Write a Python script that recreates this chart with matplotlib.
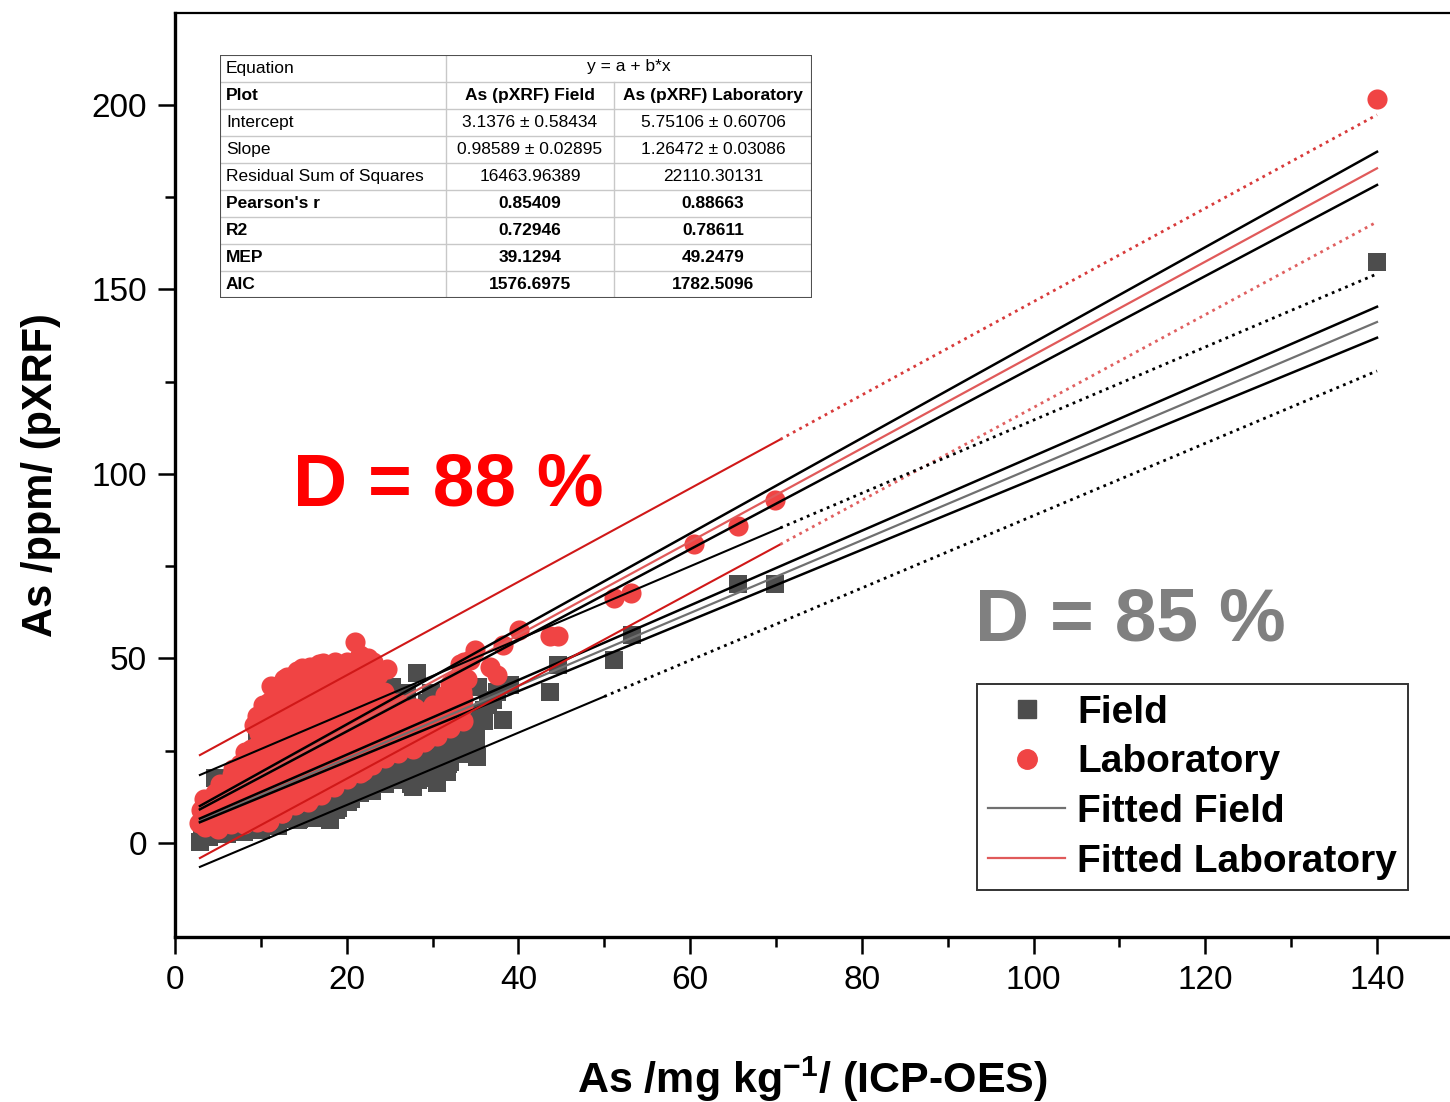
import numpy as np
import matplotlib
matplotlib.use("Agg")
import matplotlib.pyplot as plt
from matplotlib.lines import Line2D

plt.rcParams['font.family'] = ['Liberation Sans', 'DejaVu Sans']
plt.rcParams['mathtext.fontset'] = 'custom'
plt.rcParams['mathtext.rm'] = 'Liberation Sans'
plt.rcParams['mathtext.bf'] = 'Liberation Sans:bold'

# ---------------- data ----------------
field_points = [
    (2.9, 0.2), (3.2, 4.5), (3.5, 2.0), (4.0, 6.5), (4.5, 3.0), (4.7, 17.6), (5.0, 9.0), (5.5, 5.0),
    (6.0, 11.5), (6.3, 3.8), (6.8, 7.5), (7.2, 13.0), (7.6, 4.5), (8.0, 9.5), (8.4, 15.5), (8.8, 6.0),
    (9.2, 11.0), (9.5, 28.5), (9.8, 4.5), (10.2, 8.0), (10.5, 14.5), (10.8, 20.0), (11.1, 5.0), (11.3, 34.7),
    (11.6, 10.5), (12.0, 17.0), (12.3, 24.0), (12.6, 6.5), (13.0, 12.5), (13.3, 20.5), (13.7, 8.0), (14.0, 15.0),
    (14.3, 27.0), (14.5, 6.5), (15.0, 11.0), (15.4, 18.5), (15.8, 24.5), (16.2, 8.5), (16.5, 14.0), (16.9, 21.0),
    (17.3, 30.0), (17.6, 11.5), (18.0, 6.2), (18.2, 17.0), (18.5, 25.5), (18.8, 9.0), (19.2, 20.0), (19.5, 14.0),
    (19.8, 31.0), (20.2, 11.0), (20.5, 18.0), (20.9, 24.0), (21.3, 14.4), (21.7, 29.0), (22.0, 20.5), (22.4, 35.0),
    (22.8, 16.0), (23.2, 26.0), (23.6, 21.0), (24.0, 32.0), (24.4, 17.0), (24.8, 38.0), (25.2, 24.0), (25.3, 42.3),
    (25.6, 19.5), (26.0, 29.0), (26.4, 35.0), (26.8, 22.0), (27.2, 17.5), (27.7, 15.2), (28.0, 25.0), (28.2, 46.1),
    (28.3, 17.1), (28.6, 31.0), (29.0, 21.0), (29.4, 38.0), (29.8, 26.0), (30.2, 19.0), (30.5, 16.3), (30.8, 33.0),
    (31.2, 23.0), (31.7, 19.2), (31.8, 21.5), (32.2, 29.0), (32.6, 36.0), (33.0, 25.0), (33.4, 31.0), (34.0, 27.0),
    (35.0, 29.8), (35.1, 31.2), (35.2, 23.3), (35.3, 42.3), (36.0, 36.0), (37.0, 38.8), (37.5, 41.0), (38.2, 33.3),
    (39.0, 42.8), (4.0, 1.5), (6.0, 2.5), (8.0, 3.0), (10.0, 3.5), (12.0, 4.5), (14.3, 6.2), (16.0, 6.8),
    (17.5, 8.0), (19.0, 9.5), (20.5, 12.0), (21.5, 13.5), (23.0, 14.0), (24.5, 16.0), (26.0, 17.0), (27.5, 16.0),
    (29.0, 17.5), (30.5, 19.0), (32.0, 22.0), (33.5, 24.0), (35.0, 27.0), (22.0, 18.0), (25.0, 20.5), (28.0, 21.0),
    (31.0, 25.0), (33.0, 28.0), (36.0, 33.0), (34.0, 35.0), (32.0, 38.0), (27.0, 40.5), (29.8, 40.5), (26.5, 24.5),
    (29.5, 23.0), (32.5, 26.5), (34.5, 30.5), (36.5, 37.5), (31.0, 31.5),
    (43.7, 40.9), (44.6, 48.2), (51.1, 49.6), (53.2, 56.4), (65.6, 70.2), (69.9, 70.2), (140.0, 157.5),
]

lab_points = [
    (2.8, 5.5), (3.0, 9.0), (3.3, 7.0), (3.6, 11.5), (4.0, 5.0), (4.3, 8.5), (4.7, 13.5), (5.0, 4.5),
    (5.3, 10.0), (5.6, 15.5), (6.0, 7.0), (6.3, 12.0), (6.6, 18.5), (7.0, 9.5), (7.3, 14.5), (7.6, 21.5),
    (8.0, 6.5), (8.3, 11.5), (8.6, 17.0), (8.9, 25.5), (9.2, 32.0), (9.4, 8.5), (9.7, 14.0), (10.0, 20.5),
    (10.2, 37.5), (10.5, 27.5), (10.8, 5.8), (11.1, 11.0), (11.4, 17.5), (11.6, 41.5), (11.9, 24.0), (12.2, 33.0),
    (12.5, 8.0), (12.8, 14.5), (13.1, 45.0), (13.3, 21.0), (13.6, 38.5), (13.9, 28.5), (14.1, 10.5), (14.4, 17.0),
    (14.8, 47.5), (15.0, 34.0), (15.3, 24.5), (15.6, 42.0), (15.9, 12.5), (16.2, 19.5), (16.5, 29.5), (16.8, 48.5),
    (17.1, 38.0), (17.4, 15.5), (17.7, 23.0), (18.0, 44.5), (18.3, 33.5), (18.6, 49.0), (18.9, 18.5), (19.2, 27.0),
    (19.5, 40.0), (19.8, 21.5), (20.1, 47.0), (20.4, 31.5), (20.8, 36.0), (21.0, 54.5), (21.3, 24.0), (21.6, 43.5),
    (21.9, 19.5), (22.2, 28.5), (22.5, 50.0), (22.8, 38.0), (23.1, 23.5), (23.4, 33.0), (23.7, 45.5), (24.0, 26.5),
    (24.3, 41.0), (24.7, 47.0), (25.0, 30.0), (25.3, 36.5), (25.7, 24.5), (26.0, 38.0), (26.4, 32.0), (26.8, 27.0),
    (27.2, 36.0), (27.7, 25.5), (28.0, 36.5), (28.4, 30.0), (28.8, 34.5), (29.2, 28.0), (29.6, 36.0), (30.0, 37.5),
    (30.4, 31.0), (30.8, 36.0), (31.5, 40.0), (31.6, 33.5), (32.5, 44.0), (32.4, 37.0), (32.8, 42.5), (33.2, 48.5),
    (33.6, 39.0), (34.0, 44.5), (34.4, 49.6), (34.9, 52.3), (36.7, 47.7), (37.5, 45.5), (38.2, 53.7), (40.1, 57.7),
    (3.5, 4.2), (3.6, 8.0), (3.4, 12.0), (5.0, 3.8), (5.1, 7.6), (4.9, 12.2), (5.2, 16.0),
    (6.5, 5.0), (6.4, 9.2), (6.6, 13.0), (6.5, 16.8), (6.7, 20.0),
    (8.0, 5.2), (8.1, 9.0), (7.9, 13.2), (8.0, 17.2), (8.2, 21.0), (8.1, 24.5),
    (9.5, 5.8), (9.6, 10.2), (9.4, 14.0), (9.5, 18.2), (9.7, 22.0), (9.5, 26.3), (9.8, 29.8), (9.6, 34.5),
    (11.0, 6.0), (11.1, 10.0), (10.9, 14.2), (11.0, 18.0), (11.2, 22.3), (11.0, 26.0), (10.9, 30.2), (11.1, 34.0),
    (11.0, 38.3), (11.2, 42.5),
    (12.5, 8.0), (12.6, 12.2), (12.4, 16.0), (12.5, 20.3), (12.7, 24.0), (12.5, 28.2), (12.4, 32.0), (12.6, 36.3),
    (12.5, 40.0), (12.7, 44.5),
    (14.0, 10.2), (14.1, 14.0), (13.9, 18.3), (14.0, 22.0), (14.2, 26.2), (14.0, 30.0), (13.9, 34.3), (14.1, 38.0),
    (14.0, 42.2), (14.2, 46.5),
    (15.5, 11.2), (15.6, 15.0), (15.4, 19.2), (15.5, 23.0), (15.7, 27.3), (15.5, 31.0), (15.4, 35.2), (15.6, 39.0),
    (15.5, 43.3), (15.7, 47.8),
    (17.0, 13.0), (17.1, 17.2), (16.9, 21.0), (17.0, 25.3), (17.2, 29.0), (17.0, 33.2), (16.9, 37.0), (17.1, 41.3),
    (17.0, 45.0), (17.2, 48.8),
    (18.5, 15.2), (18.6, 19.0), (18.4, 23.3), (18.5, 27.0), (18.7, 31.2), (18.5, 35.0), (18.4, 39.3), (18.6, 43.0),
    (18.5, 47.2),
    (20.0, 17.2), (20.1, 21.0), (19.9, 25.2), (20.0, 29.0), (20.2, 33.3), (20.0, 37.0), (19.9, 41.2), (20.1, 45.0),
    (20.0, 49.0),
    (21.5, 19.0), (21.6, 23.2), (21.4, 27.0), (21.5, 31.3), (21.7, 35.0), (21.5, 39.2), (21.4, 43.0), (21.6, 47.3),
    (21.5, 51.0),
    (23.0, 21.2), (23.1, 25.0), (22.9, 29.3), (23.0, 33.0), (23.2, 37.2), (23.0, 41.0), (22.9, 45.3), (23.1, 49.0),
    (24.5, 23.0), (24.6, 27.2), (24.4, 31.0), (24.5, 35.3), (24.7, 39.0),
    (26.0, 24.3), (26.1, 28.0), (25.9, 32.2), (26.0, 36.0),
    (27.5, 26.0), (27.6, 30.3), (27.4, 34.0),
    (29.0, 27.3), (29.1, 31.0), (28.9, 35.2),
    (30.5, 29.0), (30.6, 33.2), (30.4, 37.0),
    (32.0, 31.2), (32.1, 35.0), (31.9, 39.3), (32.0, 43.0),
    (33.5, 33.0), (33.6, 37.2), (33.4, 41.0), (33.5, 45.3), (33.7, 49.0),
    (43.7, 56.1), (44.6, 56.1), (51.1, 66.4), (53.1, 67.8), (60.4, 81.0), (65.6, 85.9), (69.9, 93.0), (140.0, 201.5),
]
field_x = [p[0] for p in field_points]
field_y = [p[1] for p in field_points]
lab_x = [p[0] for p in lab_points]
lab_y = [p[1] for p in lab_points]

# linear fit parameters (from the table)
field_intercept, field_slope = 3.1376, 0.98589
lab_intercept, lab_slope = 5.75106, 1.26472

# band end values at x = 2.9 and x = 140
band_x = [2.9, 140.0]
field_conf_hi = [6.6, 145.3]
field_conf_lo = [5.6, 136.9]
lab_conf_hi = [10.0, 187.3]
lab_conf_lo = [9.1, 178.3]
field_pred_hi = [18.4, 154.2]
field_pred_lo = [-6.5, 127.9]
lab_pred_hi = [23.8, 197.3]
lab_pred_lo = [-4.1, 168.3]

table_rows = ["Equation", "Plot", "Intercept", "Slope", "Residual Sum of Squares",
              "Pearson's r", "R2", "MEP", "AIC"]
table_field = ["", "As (pXRF) Field", "3.1376 \u00b1 0.58434", "0.98589 \u00b1 0.02895",
               "16463.96389", "0.85409", "0.72946", "39.1294", "1576.6975"]
table_lab = ["", "As (pXRF) Laboratory", "5.75106 \u00b1 0.60706", "1.26472 \u00b1 0.03086",
             "22110.30131", "0.88663", "0.78611", "49.2479", "1782.5096"]
table_equation = "y = a + b*x"
bold_rows = [1, 5, 6, 7, 8]

# ---------------- figure ----------------
W, H = 1450, 1102
fig = plt.figure(figsize=(W / 100, H / 100), dpi=100)
ax = fig.add_axes([175 / W, 1 - 937 / H, 1275 / W, 924 / H])

ax.scatter(field_x, field_y, marker='s', s=170, color='#4D4D4D', linewidths=0, zorder=2)
ax.scatter(lab_x, lab_y, marker='o', s=210, color='#F04444', linewidths=0, zorder=3)

xl = np.array(band_x)
ax.plot(xl, field_intercept + field_slope * xl, color='#707070', lw=1.6, zorder=5)
ax.plot(xl, lab_intercept + lab_slope * xl, color='#E05A5A', lw=1.6, zorder=5)
for b in (field_conf_hi, field_conf_lo, lab_conf_hi, lab_conf_lo):
    ax.plot(band_x, b, color='black', lw=1.8, zorder=5)


def split_line(band, xs, color_solid, color_dot):
    ys = np.interp(xs, band_x, band)
    ax.plot([band_x[0], xs], [band[0], ys], color=color_solid, lw=1.5, zorder=5)
    ax.plot([xs, band_x[1]], [ys, band[1]], color=color_dot, lw=2.0,
            linestyle=(0, (1.0, 1.6)), zorder=5)


split_line(lab_pred_hi, 70.5, '#D01818', '#D83A3A')
split_line(lab_pred_lo, 70.5, '#D01818', '#E06060')
split_line(field_pred_hi, 70.5, 'black', 'black')
split_line(field_pred_lo, 50.0, 'black', 'black')

ax.set_xlim(0, 148.5)
ax.set_ylim(-25.5, 224.9)
ax.set_xticks([0, 20, 40, 60, 80, 100, 120, 140])
ax.set_xticks(np.arange(10, 150, 20), minor=True)
ax.set_yticks([0, 50, 100, 150, 200])
ax.set_yticks([25, 75, 125, 175], minor=True)
ax.tick_params(which='major', direction='out', length=12, width=1.8, labelsize=24, pad=8)
ax.tick_params(which='minor', direction='out', length=7, width=1.8)
ax.spines['right'].set_visible(False)
ax.spines['left'].set_linewidth(2.4)
ax.spines['bottom'].set_linewidth(2.4)
ax.spines['top'].set_linewidth(1.6)

ax.set_xlabel(r'As /mg kg$^{\mathbf{-1}}$/ (ICP-OES)', fontsize=31, fontweight='bold', labelpad=42)
ax.set_ylabel('As /ppm/ (pXRF)', fontsize=30, fontweight='bold', labelpad=22)

ax.text(0.0925, 0.4675, 'D = 88 %', transform=ax.transAxes, fontsize=54, fontweight='bold',
        color='#FF0000', va='baseline', ha='left')
ax.text(0.6275, 0.3214, 'D = 85 %', transform=ax.transAxes, fontsize=54, fontweight='bold',
        color='#808080', va='baseline', ha='left')

handles = [Line2D([], [], marker='s', color='#4D4D4D', ls='none', markersize=13),
           Line2D([], [], marker='o', color='#F04444', ls='none', markersize=14),
           Line2D([], [], color='#707070', lw=1.6),
           Line2D([], [], color='#E05A5A', lw=1.6)]
leg = ax.legend(handles, ['Field', 'Laboratory', 'Fitted Field', 'Fitted Laboratory'],
                loc='upper right', bbox_to_anchor=(0.967, 0.274), borderaxespad=0,
                prop={'size': 28, 'weight': 'bold'}, frameon=True, fancybox=False,
                handlelength=2.0, handletextpad=0.3, labelspacing=0.35, borderpad=0.28)
leg.get_frame().set_edgecolor('black')
leg.get_frame().set_linewidth(1.4)
leg.set_zorder(10)

# ---------------- table ----------------
tx0, ty0, tw, th = 220, 55, 592, 243
tab = fig.add_axes([tx0 / W, 1 - (ty0 + th) / H, tw / W, th / H])
tab.set_xlim(0, tw)
tab.set_ylim(th, 0)
tab.axis('off')
tab.add_patch(plt.Rectangle((0, 0), tw, th, facecolor='white', edgecolor='none', zorder=0))
nrows = len(table_rows)
rh = th / nrows
c1, c2 = 446 - tx0, 614 - tx0
for i in range(1, nrows):
    tab.plot([0, tw], [i * rh, i * rh], color='#C8C8C8', lw=1.0)
tab.plot([c1, c1], [0, th], color='#C8C8C8', lw=1.0)
tab.plot([c2, c2], [rh, th], color='#C8C8C8', lw=1.0)
tab.add_patch(plt.Rectangle((0, 0), tw, th, facecolor='none', edgecolor='#505050', lw=1.5, zorder=3))
for i in range(nrows):
    yc = (i + 0.5) * rh
    wt = 'bold' if i in bold_rows else 'normal'
    tab.text(6, yc, table_rows[i], fontsize=12.5, fontweight=wt, va='center', ha='left')
    if i == 0:
        tab.text((c1 + tw) / 2, yc - 2, table_equation, fontsize=12.5, va='center', ha='center')
    else:
        tab.text((c1 + c2) / 2, yc, table_field[i], fontsize=12.5, fontweight=wt, va='center', ha='center')
        tab.text((c2 + tw) / 2, yc, table_lab[i], fontsize=12.5, fontweight=wt, va='center', ha='center')

fig.savefig('out.png', dpi=100)
